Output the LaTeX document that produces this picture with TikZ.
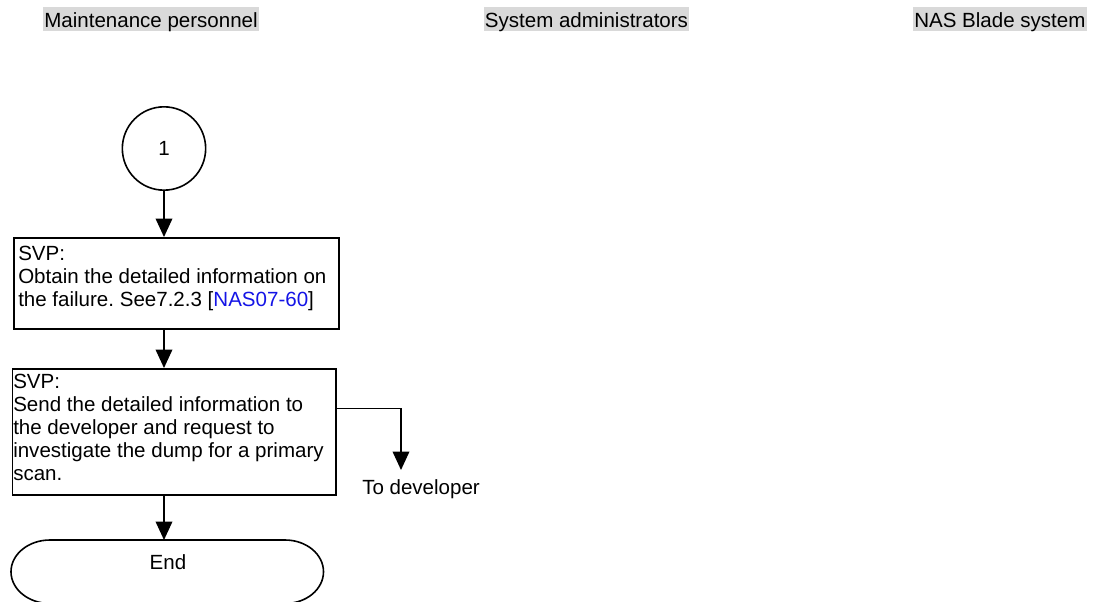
\documentclass[tikz,border=0pt]{standalone}
\usepackage{fontspec}
\setmainfont{Liberation Sans}
\usetikzlibrary{arrows.meta}
\definecolor{hdrgray}{HTML}{D9D9D9}
\definecolor{linkblue}{HTML}{1414E6}
\frenchspacing
\begin{document}
\begin{tikzpicture}[x=0.75pt,y=-0.75pt,
  font=\fontsize{15.4}{17.25}\selectfont,
  hdr/.style={fill=hdrgray, inner xsep=1pt, inner ysep=0pt, text height=15.3pt, text depth=3pt, anchor=base west},
  proc/.style={draw, line width=1.2pt, inner sep=0pt, anchor=north west},
  txt/.style={align=left, inner sep=0pt, anchor=north west},
  conn/.style={line width=1pt, -{Triangle[width=12.5pt,length=13.8pt]}},
  term/.style={line width=1.2pt}
]
\useasboundingbox (0,0) rectangle (1093,602);
% headers
\node[hdr] (h1) at (42.7,27.5) {Maintenance personnel};
\node[hdr] (h2) at (483.3,27.5) {System administrators};
\node[hdr] (h3) at (912.7,27.5) {NAS Blade system};
% connector circle
\node[draw, circle, line width=1.2pt, minimum size=62.5pt, inner sep=0pt] (c1) at (164,148.5) {1};
% process boxes
\node[proc, minimum width=243.75pt, minimum height=68.25pt] (b1) at (13.3,237) {};
\node[txt] (t1) at (18,245.5) {SVP:\\Obtain the detailed information on\\the failure. See7.2.3 [\textcolor{linkblue}{NAS07-60}]};
\node[proc, minimum width=242.7pt, minimum height=94.5pt] (b2) at (11.7,368) {};
\node[txt] (t2) at (13,374) {SVP:\\Send the detailed information to\\the developer and request to\\investigate the dump for a primary\\scan.};
% terminator
\draw[term] (50,540) -- (285,540) .. controls (306.3,540) and (323.5,554.2) .. (323.5,571.75) .. controls (323.5,589.3) and (306.3,603.5) .. (285,603.5) -- (50,603.5) .. controls (28.5,603.5) and (11,589.3) .. (11,571.75) .. controls (11,554.2) and (28.5,540) .. (50,540) -- cycle;
\coordinate (endtop) at (164,540);
\node[inner sep=0pt] (endlbl) at (168,561.7) {End};
% side exit
\coordinate (todev) at (401,470);
\node[anchor=base west, inner sep=0pt] (devlbl) at (362,494.3) {To developer};
% connectors
\draw[conn] (c1.south) -- (c1.south |- b1.north);
\draw[conn] (b1.south -| c1) -- (b2.north -| c1);
\draw[conn] (b2.south -| endtop) -- (endtop);
\draw[conn] ([yshift=-30.2pt]b2.north east) -| (todev);
\end{tikzpicture}
\end{document}
